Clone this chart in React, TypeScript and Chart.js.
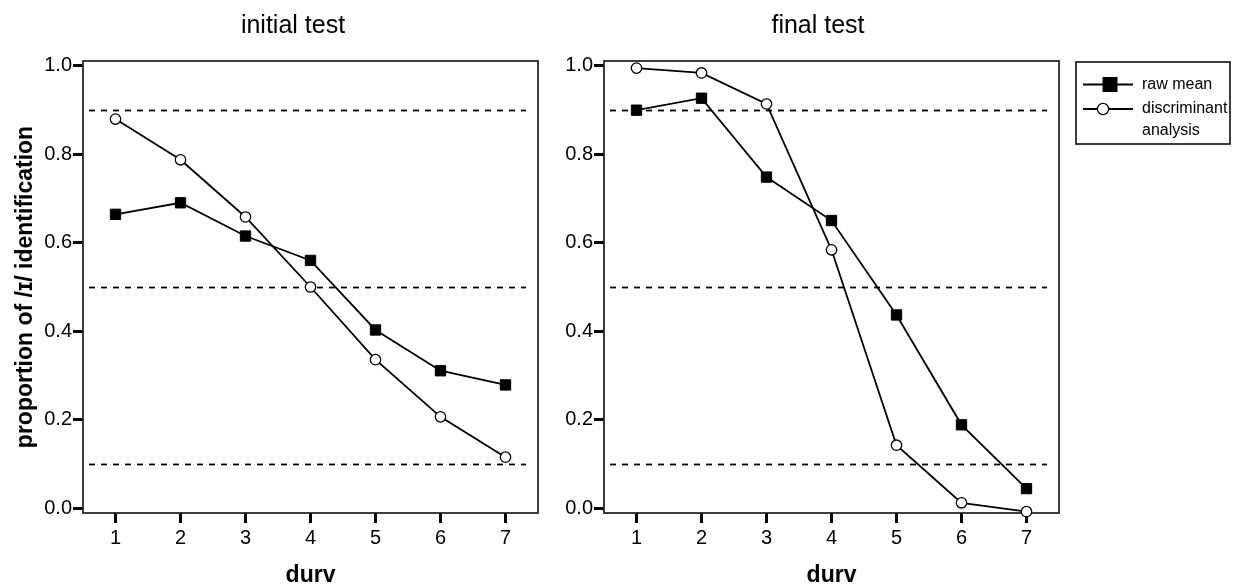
import React, { useEffect, useRef } from 'react';
import { Chart, registerables } from 'chart.js';

Chart.register(...registerables);

// ---------- data ----------
const DURV = [1, 2, 3, 4, 5, 6, 7];
const Y_TICKS = [0, 0.2, 0.4, 0.6, 0.8, 1.0];
const REF_LEVELS = [0.9, 0.5, 0.1];

const INITIAL_RAW_MEAN = [0.664, 0.69, 0.615, 0.56, 0.403, 0.311, 0.279];
const INITIAL_DISCRIMINANT = [0.879, 0.787, 0.658, 0.5, 0.336, 0.207, 0.116];
const FINAL_RAW_MEAN = [0.899, 0.926, 0.748, 0.65, 0.437, 0.189, 0.045];
const FINAL_DISCRIMINANT = [0.994, 0.983, 0.913, 0.584, 0.143, 0.013, -0.007];

const SERIES_LABELS = ['raw mean', 'discriminant analysis'];
const LEGEND_LINES = [['raw mean'], ['discriminant', 'analysis']];
const PANEL_TITLES = ['initial test', 'final test'];
const X_TITLE = 'durv';
const Y_TITLE = 'proportion of /ɪ/ identification';

const FONT = '"Liberation Sans", Arial, Helvetica, sans-serif';
const INK = '#000000';
const FRAME = '#2b2727';

// ---------- plugins ----------
const framePlugin = {
  id: 'frame',
  beforeDatasetsDraw(chart: any) {
    const { ctx, chartArea } = chart;
    const { left, top, right, bottom } = chartArea;
    ctx.save();
    ctx.strokeStyle = FRAME;
    ctx.lineWidth = 1.8;
    ctx.strokeRect(left, top, right - left, bottom - top);
    ctx.restore();
  },
};

const refLinesPlugin = {
  id: 'refLines',
  beforeDatasetsDraw(chart: any) {
    const { ctx, chartArea } = chart;
    const yScale = chart.scales.y;
    ctx.save();
    ctx.strokeStyle = INK;
    ctx.lineWidth = 1.8;
    ctx.setLineDash([6, 6]);
    REF_LEVELS.forEach((lv) => {
      const y = Math.round(yScale.getPixelForValue(lv)) + 0.5;
      ctx.beginPath();
      ctx.moveTo(chartArea.left + 6, y);
      ctx.lineTo(chartArea.right - 12, y);
      ctx.stroke();
    });
    ctx.restore();
  },
};

const panelTitlePlugin = {
  id: 'panelTitle',
  afterDraw(chart: any, _args: any, opts: any) {
    const { ctx } = chart;
    ctx.save();
    ctx.fillStyle = INK;
    ctx.font = `25px ${FONT}`;
    ctx.textAlign = 'center';
    ctx.textBaseline = 'alphabetic';
    ctx.fillText(opts.text, opts.x, opts.y);
    ctx.restore();
  },
};

const legendBoxPlugin = {
  id: 'legendBox',
  afterDraw(chart: any, _args: any, opts: any) {
    if (!opts || !opts.show) return;
    const { ctx } = chart;
    const bx = opts.x;
    const by = opts.y;
    ctx.save();
    ctx.strokeStyle = FRAME;
    ctx.lineWidth = 1.8;
    ctx.strokeRect(bx, by, opts.w, opts.h);

    ctx.font = `16px ${FONT}`;
    ctx.textAlign = 'left';
    ctx.textBaseline = 'middle';
    const rows = [
      { lineY: by + 22.5, textY: by + 22.5, lines: LEGEND_LINES[0], marker: 'rect', mx: bx + 34 },
      { lineY: by + 47, textY: by + 46.5, lines: LEGEND_LINES[1], marker: 'circle', mx: bx + 27 },
    ];
    rows.forEach((r) => {
      ctx.strokeStyle = INK;
      ctx.lineWidth = 1.8;
      ctx.beginPath();
      ctx.moveTo(bx + 7, r.lineY);
      ctx.lineTo(bx + 57, r.lineY);
      ctx.stroke();
      if (r.marker === 'rect') {
        ctx.fillStyle = INK;
        ctx.fillRect(r.mx - 7.5, r.lineY - 7.5, 15, 15);
      } else {
        ctx.fillStyle = '#ffffff';
        ctx.lineWidth = 1.3;
        ctx.beginPath();
        ctx.arc(r.mx, r.lineY, 5.6, 0, Math.PI * 2);
        ctx.fill();
        ctx.stroke();
      }
      ctx.fillStyle = INK;
      r.lines.forEach((t, i) => {
        ctx.fillText(t, bx + 66, r.textY + i * 22);
      });
    });
    ctx.restore();
  },
};

// ---------- config ----------
function makeConfig(p: {
  raw: number[];
  disc: number[];
  title: string;
  titleX: number;
  yAxisWidth: number;
  padRight: number;
  showYTitle: boolean;
  legend: any;
}) {
  const tickFont = { family: FONT, size: 20 };
  const grid = {
    display: true,
    drawOnChartArea: false,
    drawTicks: true,
    tickLength: 10,
    tickWidth: 3,
    tickColor: INK,
    color: INK,
  };
  return {
    type: 'line',
    data: {
      datasets: [
        {
          label: SERIES_LABELS[0],
          data: DURV.map((x, i) => ({ x, y: p.raw[i] })),
          borderColor: INK,
          backgroundColor: INK,
          borderWidth: 1.8,
          pointStyle: 'rect',
          pointRadius: 7.3,
          pointBorderWidth: 1,
          pointBackgroundColor: INK,
          pointBorderColor: INK,
          tension: 0,
          clip: false,
        },
        {
          label: SERIES_LABELS[1],
          data: DURV.map((x, i) => ({ x, y: p.disc[i] })),
          borderColor: INK,
          backgroundColor: '#ffffff',
          borderWidth: 1.8,
          pointStyle: 'circle',
          pointRadius: 5.2,
          pointBorderWidth: 1.3,
          pointBackgroundColor: '#ffffff',
          pointBorderColor: INK,
          tension: 0,
          clip: false,
        },
      ],
    },
    options: {
      responsive: false,
      animation: false,
      events: [],
      layout: { padding: { left: 0, right: p.padRight, top: 61, bottom: 0 } },
      plugins: {
        legend: { display: false },
        title: { display: false },
        tooltip: { enabled: false },
        panelTitle: { text: p.title, x: p.titleX, y: 33 },
        legendBox: p.legend,
      },
      scales: {
        x: {
          type: 'linear',
          min: 0.5,
          max: 7.5,
          afterBuildTicks: (s: any) => {
            s.ticks = DURV.map((v) => ({ value: v }));
          },
          afterFit: (s: any) => {
            s.height = 72;
          },
          grid,
          border: { display: false },
          ticks: {
            autoSkip: false,
            maxRotation: 0,
            padding: 3,
            color: INK,
            font: tickFont,
            callback: (v: any) => String(v),
          },
          title: {
            display: true,
            text: X_TITLE,
            color: INK,
            font: { family: FONT, size: 23, weight: 'bold' },
            padding: { top: 0, bottom: -4 },
          },
        },
        y: {
          type: 'linear',
          min: -0.01,
          max: 1.01,
          afterBuildTicks: (s: any) => {
            s.ticks = Y_TICKS.map((v) => ({ value: v }));
          },
          afterFit: (s: any) => {
            s.width = p.yAxisWidth;
          },
          grid,
          border: { display: false },
          ticks: {
            autoSkip: false,
            padding: 1,
            color: INK,
            font: tickFont,
            callback: (v: any) => Number(v).toFixed(1),
          },
          title: {
            display: p.showYTitle,
            text: Y_TITLE,
            color: INK,
            font: { family: FONT, size: 23, weight: 'bold' },
            padding: { top: 12, bottom: 0 },
          },
        },
      },
    },
    plugins: [framePlugin, refLinesPlugin, panelTitlePlugin, legendBoxPlugin],
  };
}

export default function App() {
  const leftRef = useRef<HTMLCanvasElement | null>(null);
  const rightRef = useRef<HTMLCanvasElement | null>(null);

  useEffect(() => {
    const charts: Chart[] = [];
    if (leftRef.current) {
      charts.push(
        new Chart(
          leftRef.current,
          makeConfig({
            raw: INITIAL_RAW_MEAN,
            disc: INITIAL_DISCRIMINANT,
            title: PANEL_TITLES[0],
            titleX: 293,
            yAxisWidth: 83,
            padRight: 22,
            showYTitle: true,
            legend: { show: false },
          }) as any
        )
      );
    }
    if (rightRef.current) {
      charts.push(
        new Chart(
          rightRef.current,
          makeConfig({
            raw: FINAL_RAW_MEAN,
            disc: FINAL_DISCRIMINANT,
            title: PANEL_TITLES[1],
            titleX: 278,
            yAxisWidth: 64,
            padRight: 184,
            showYTitle: false,
            legend: { show: true, x: 536, y: 62, w: 154, h: 82 },
          }) as any
        )
      );
    }
    return () => {
      charts.forEach((c) => c.destroy());
    };
  }, []);

  return (
    <div
      style={{
        position: 'absolute',
        left: 0,
        top: 0,
        width: 1243,
        height: 585,
        overflow: 'hidden',
        background: '#ffffff',
      }}
    >
      <canvas
        ref={leftRef}
        width={560}
        height={585}
        style={{ position: 'absolute', left: 0, top: 0, display: 'block' }}
      />
      <canvas
        ref={rightRef}
        width={703}
        height={585}
        style={{ position: 'absolute', left: 540, top: 0, display: 'block' }}
      />
    </div>
  );
}
